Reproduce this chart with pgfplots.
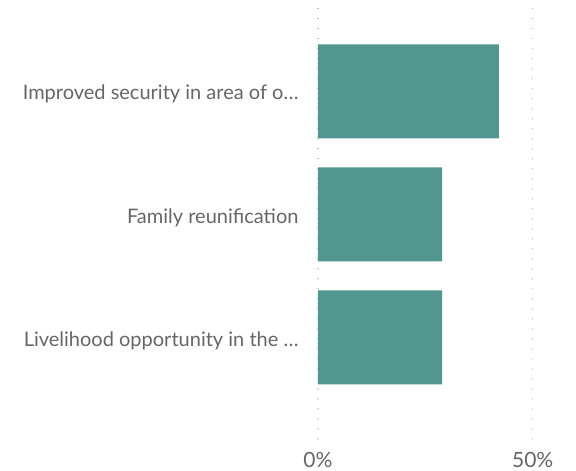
\documentclass[border=0pt]{standalone}
\usepackage{fontspec}
\setmainfont{Lato}
\usepackage{pgfplots}
\pgfplotsset{compat=1.18}
\definecolor{barc}{HTML}{529690}
\definecolor{txt}{HTML}{666666}
\begin{document}
\begin{tikzpicture}
\begin{axis}[
  at={(0,0)}, anchor=south west,
  scale only axis, width=258pt, height=439pt,
  xmin=0, xmax=60.08, ymin=-0.825, ymax=2.742,
  axis line style={draw=none},
  major tick length=0,
  xtick={0,50}, xticklabels={0\%,50\%},
  ytick={0,1,2},
  yticklabels={Livelihood opportunity in the \dots, Family reunification, Improved security in area of o\dots},
  xmajorgrids, ymajorgrids=false,
  grid style={line width=1.3pt, dash pattern=on 0.01pt off 10pt, line cap=round, color=black!30},
  xbar, bar width=94pt, bar shift=0pt,
  x tick label style={font=\fontsize{21}{25}\selectfont, text=txt, yshift=-10pt},
  y tick label style={font=\fontsize{20}{24}\selectfont, text=txt, xshift=-16pt, yshift=-3pt},
]
\addplot[fill=barc, draw=none] coordinates {(42.1,2) (28.9,1) (28.9,0)};
\end{axis}
\pgfresetboundingbox
\path[use as bounding box] (-318pt,-32pt) rectangle (258pt,439pt);
\end{tikzpicture}
\end{document}
